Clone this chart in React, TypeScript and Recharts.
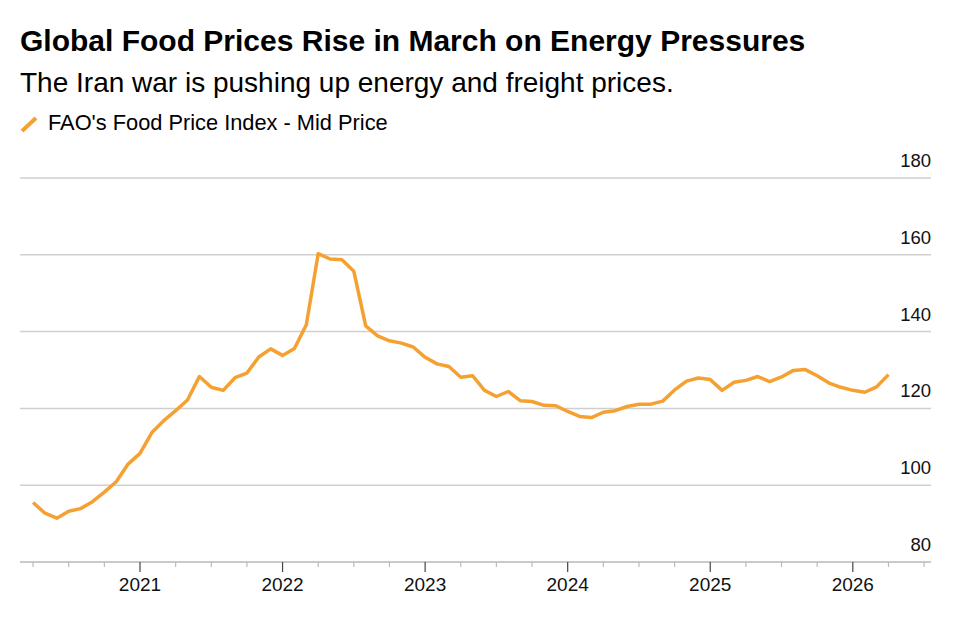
import { LineChart, Line, XAxis, YAxis, CartesianGrid } from 'recharts';

// monthly index, plotted at month end
const months = [
  '2020-03', '2020-04', '2020-05', '2020-06', '2020-07', '2020-08', '2020-09', '2020-10', '2020-11', '2020-12',
  '2021-01', '2021-02', '2021-03', '2021-04', '2021-05', '2021-06', '2021-07', '2021-08', '2021-09', '2021-10', '2021-11', '2021-12',
  '2022-01', '2022-02', '2022-03', '2022-04', '2022-05', '2022-06', '2022-07', '2022-08', '2022-09', '2022-10', '2022-11', '2022-12',
  '2023-01', '2023-02', '2023-03', '2023-04', '2023-05', '2023-06', '2023-07', '2023-08', '2023-09', '2023-10', '2023-11', '2023-12',
  '2024-01', '2024-02', '2024-03', '2024-04', '2024-05', '2024-06', '2024-07', '2024-08', '2024-09', '2024-10', '2024-11', '2024-12',
  '2025-01', '2025-02', '2025-03', '2025-04', '2025-05', '2025-06', '2025-07', '2025-08', '2025-09', '2025-10', '2025-11', '2025-12',
  '2026-01', '2026-02', '2026-03',
];

const foodPriceIndex = [
  95.5, 92.7, 91.4, 93.2, 93.9, 95.7, 98.2, 100.9, 105.5, 108.3,
  113.7, 116.8, 119.4, 122.2, 128.3, 125.5, 124.7, 128.0, 129.2, 133.4, 135.5, 133.8,
  135.6, 141.8, 160.3, 158.9, 158.7, 155.7, 141.5, 138.9, 137.6, 137.0, 136.0, 133.3,
  131.6, 130.9, 128.1, 128.5, 124.7, 123.1, 124.4, 122.0, 121.8, 120.8, 120.7, 119.2,
  117.9, 117.6, 119.0, 119.4, 120.5, 121.1, 121.1, 121.9, 124.8, 127.1, 127.9, 127.5,
  124.7, 126.8, 127.3, 128.3, 127.0, 128.2, 129.9, 130.1, 128.5, 126.6, 125.5, 124.7,
  124.2, 125.6, 128.8,
];

const yTicks = [80, 100, 120, 140, 160, 180];
const yearLabels = ['2021', '2022', '2023', '2024', '2025', '2026'];

const ORANGE = '#F5A131';
const FONT = '"Liberation Sans", Arial, sans-serif';

// months since Jan 2020, at end of the given month
function monthEnd(label: string): number {
  const [y, m] = label.split('-').map(Number);
  return (y - 2020) * 12 + m;
}

const data = months.map((m, i) => ({ t: monthEnd(m), value: foodPriceIndex[i] }));

const quarterTicks: number[] = [];
for (let t = 3; t <= 78; t += 3) quarterTicks.push(t);

function XTick(props: any) {
  const { x, y, payload } = props;
  const t = payload.value as number;
  const idx = t / 12 - 1;
  const isYear = t % 12 === 0 && idx >= 0 && idx < yearLabels.length;
  return (
    <g>
      <line
        x1={x}
        x2={x}
        y1={y}
        y2={y + (isYear ? 10 : 5)}
        stroke={isYear ? '#444' : '#bbb'}
        strokeWidth={1.2}
      />
      {isYear && (
        <text x={x} y={y + 29} textAnchor="middle" fontSize={19} fontFamily={FONT} fill="#111">
          {yearLabels[idx]}
        </text>
      )}
    </g>
  );
}

function YTick(props: any) {
  const { x, y, payload } = props;
  return (
    <text x={x} y={y - 11} textAnchor="end" fontSize={18.5} fontFamily={FONT} fill="#111">
      {payload.value}
    </text>
  );
}

export default function App() {
  return (
    <div style={{ position: 'relative', width: 952, height: 613, fontFamily: FONT, color: '#000' }}>
      <div
        style={{
          position: 'absolute',
          left: 12,
          top: 18,
          fontSize: 30,
          lineHeight: '30px',
          fontWeight: 700,
          whiteSpace: 'nowrap',
        }}
      >
        Global Food Prices Rise in March on Energy Pressures
      </div>
      <div
        style={{
          position: 'absolute',
          left: 12,
          top: 61,
          fontSize: 28,
          lineHeight: '28px',
          whiteSpace: 'nowrap',
        }}
      >
        The Iran war is pushing up energy and freight prices.
      </div>
      <svg style={{ position: 'absolute', left: 0, top: 0 }} width={40} height={140}>
        <line x1={14} y1={123} x2={28} y2={110} stroke={ORANGE} strokeWidth={4} />
      </svg>
      <div
        style={{
          position: 'absolute',
          left: 40,
          top: 104,
          fontSize: 21.8,
          lineHeight: '21.8px',
          whiteSpace: 'nowrap',
        }}
      >
        FAO's Food Price Index - Mid Price
      </div>
      <div style={{ position: 'absolute', left: 0, top: 0 }}>
        <LineChart width={952} height={613} data={data} margin={{ top: 170, right: 28, bottom: 19, left: 12 }}>
          <CartesianGrid vertical={false} stroke="#cfcfcf" strokeWidth={1.5} />
          <XAxis
            dataKey="t"
            type="number"
            domain={[1.9, 78.58]}
            ticks={quarterTicks}
            interval={0}
            height={40}
            tickSize={0}
            tickMargin={0}
            tickLine={false}
            axisLine={{ stroke: '#c4c4c4', strokeWidth: 1.5 }}
            tick={<XTick />}
            allowDataOverflow
          />
          <YAxis
            orientation="right"
            width={1}
            domain={[80, 180]}
            ticks={yTicks}
            interval={0}
            tickSize={0}
            tickMargin={0}
            axisLine={false}
            tickLine={false}
            tick={<YTick />}
          />
          <Line
            type="linear"
            dataKey="value"
            stroke={ORANGE}
            strokeWidth={3.5}
            dot={false}
            isAnimationActive={false}
            strokeLinejoin="round"
          />
        </LineChart>
      </div>
    </div>
  );
}
